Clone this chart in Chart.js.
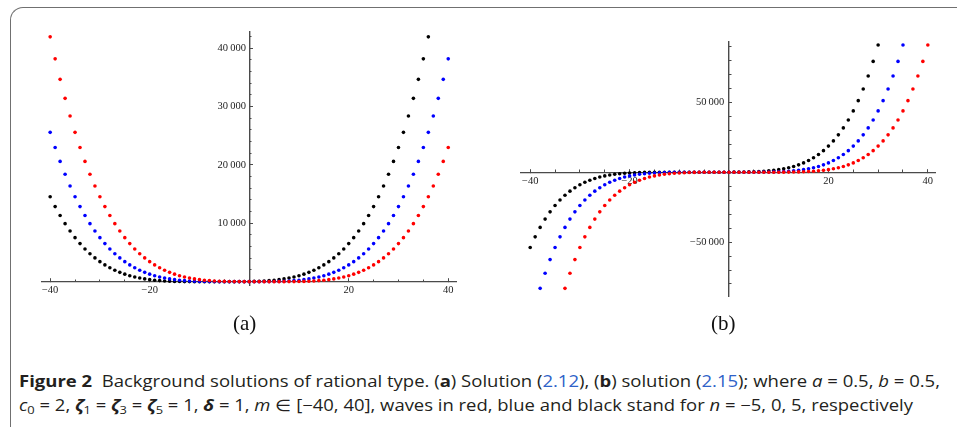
<!DOCTYPE html>
<html><head><meta charset="utf-8">
<script src="https://cdn.jsdelivr.net/npm/chart.js@4.4.1/dist/chart.umd.min.js"></script>
<style>
html,body{margin:0;padding:0;background:#fff;width:957px;height:427px;overflow:hidden;position:relative;}
#frame{position:absolute;left:10px;top:7px;width:1000px;height:500px;border-left:1.5px solid #707070;border-top:1.5px solid #707070;border-top-left-radius:13px;box-sizing:border-box;}
#ca{position:absolute;left:0;top:0;}
#cb{position:absolute;left:480px;top:0;}
.sub{position:absolute;top:310px;font-family:'Liberation Serif',serif;font-size:21px;color:#111;line-height:26px;}
.cap{position:absolute;left:19px;font-family:'Open Sans',sans-serif;font-size:16px;line-height:20px;color:#231f20;white-space:nowrap;transform-origin:0 0;}
.cap b{font-weight:700;}
.lk{color:#2e62c8;}
.sb{font-size:70%;position:relative;top:0.3em;}
</style>
</head><body>
<div id="frame"></div>
<canvas id="ca" width="480" height="320"></canvas>
<canvas id="cb" width="477" height="320"></canvas>
<div class="sub" id="la" style="left:233px;">(a)</div>
<div class="sub" id="lb" style="left:711px;">(b)</div>
<div class="cap" id="cap1" data-w="921" style="top:371px;"><b>Figure 2</b>&nbsp; Background solutions of rational type. (<b>a</b>) Solution (<span class="lk">2.12</span>), (<b>b</b>) solution (<span class="lk">2.15</span>); where <i>a</i> = 0.5, <i>b</i> = 0.5,</div>
<div class="cap" id="cap2" data-w="894" style="top:395px;"><i>c</i><span class="sb">0</span> = 2, <b><i>ζ</i></b><span class="sb">1</span> = <b><i>ζ</i></b><span class="sb">3</span> = <b><i>ζ</i></b><span class="sb">5</span> = 1, <b><i>δ</i></b> = 1, <i>m</i> ∈ [−40, 40], waves in red, blue and black stand for <i>n</i> = −5, 0, 5, respectively</div>
<script>
// ---------- data ----------
const mValues = [-40,-39,-38,-37,-36,-35,-34,-33,-32,-31,-30,-29,-28,-27,-26,-25,-24,-23,-22,-21,-20,-19,-18,-17,-16,-15,-14,-13,-12,-11,-10,-9,-8,-7,-6,-5,-4,-3,-2,-1,0,1,2,3,4,5,6,7,8,9,10,11,12,13,14,15,16,17,18,19,20,21,22,23,24,25,26,27,28,29,30,31,32,33,34,35,36,37,38,39,40];

// panel (a)
const aRed = [41915,38149,34644,31386,28363,25564,22977,20592,18398,16383,14539,12856,11322,9931,8671,7536,6515,5603,4789,4068,3431,2872,2384,1962,1598,1287,1024,803,621,471,350,254,180,123,80,50,29,16,8,3,1,0,0,0,0,0,1,3,8,16,29,50,80,123,180,254,350,471,621,803,1024,1287,1598,1962,2384,2872,3431,4068,4789,5603,6515,7536,8671,9931,11322,12856,14539,16383,18398,20592,22977];
const aBlue = [25564,22977,20592,18398,16383,14539,12856,11322,9931,8671,7536,6515,5603,4789,4068,3431,2872,2384,1962,1598,1287,1024,803,621,471,350,254,180,123,80,50,29,16,8,3,1,0,0,0,0,0,1,3,8,16,29,50,80,123,180,254,350,471,621,803,1024,1287,1598,1962,2384,2872,3431,4068,4789,5603,6515,7536,8671,9931,11322,12856,14539,16383,18398,20592,22977,25564,28363,31386,34644,38149];
const aBlack = [14539,12856,11322,9931,8671,7536,6515,5603,4789,4068,3431,2872,2384,1962,1598,1287,1024,803,621,471,350,254,180,123,80,50,29,16,8,3,1,0,0,0,0,0,1,3,8,16,29,50,80,123,180,254,350,471,621,803,1024,1287,1598,1962,2384,2872,3431,4068,4789,5603,6515,7536,8671,9931,11322,12856,14539,16383,18398,20592,22977,25564,28363,31386,34644,38149,41915,null,null,null,null];

// panel (b)
const bRed = [null,null,null,null,null,null,null,-83142,-72267,-62561,-53927,-46273,-39515,-33570,-28363,-23824,-19885,-16485,-13567,-11078,-8968,-7193,-5711,-4483,-3477,-2660,-2004,-1485,-1079,-767,-532,-359,-234,-146,-87,-49,-25,-12,-5,-2,-1,0,0,0,0,0,0,1,4,9,20,40,72,123,200,311,467,680,963,1335,1813,2420,3179,4118,5266,6658,8329,10320,12675,15442,18672,22420,26749,31721,37406,43879,51219,59509,68841,79307,91000];
const bBlue = [null,null,-83142,-72267,-62561,-53927,-46273,-39515,-33570,-28363,-23824,-19885,-16485,-13567,-11078,-8968,-7193,-5711,-4483,-3477,-2660,-2004,-1485,-1079,-767,-532,-359,-234,-146,-87,-49,-25,-12,-5,-2,-1,0,0,0,0,0,0,1,4,9,20,40,72,123,200,311,467,680,963,1335,1813,2420,3179,4118,5266,6658,8329,10320,12675,15442,18672,22420,26749,31721,37406,43879,51219,59509,68841,79307,91000,null,null,null,null,null];
const bBlack = [-53927,-46273,-39515,-33570,-28363,-23824,-19885,-16485,-13567,-11078,-8968,-7193,-5711,-4483,-3477,-2660,-2004,-1485,-1079,-767,-532,-359,-234,-146,-87,-49,-25,-12,-5,-2,-1,0,0,0,0,0,0,1,4,9,20,40,72,123,200,311,467,680,963,1335,1813,2420,3179,4118,5266,6658,8329,10320,12675,15442,18672,22420,26749,31721,37406,43879,51219,59509,68841,79307,91000,null,null,null,null,null,null,null,null,null,null];

// ticks
const aXLabels = [-40,-20,20,40];
const aXMajor = [-40,-20,20,40];
const aXMinor = [-35,-30,-25,-15,-10,-5,5,10,15,25,30,35];
const aYLabels = [10000,20000,30000,40000];
const aYMinor = [2000,4000,6000,8000,12000,14000,16000,18000,22000,24000,26000,28000,32000,34000,36000,38000,42000];

const bXLabels = [-40,-20,20,40];
const bXMajor = [-40,-20,20,40];
const bXMinor = [-35,-30,-25,-15,-10,-5,5,10,15,25,30,35];
const bYLabels = [-50000,50000];
const bYMinor = [-80000,-70000,-60000,-40000,-30000,-20000,-10000,10000,20000,30000,40000,60000,70000,80000,90000];

const seriesColors = {red:'#ff0000', blue:'#0000ff', black:'#000000'};

// ---------- helpers ----------
function fmt(v){
  const neg = v < 0; let a = Math.abs(v); let s;
  if (a >= 10000) { s = Math.floor(a/1000) + '\u2009' + String(a%1000).padStart(3,'0'); }
  else s = String(a);
  return (neg ? '\u2212' : '') + s;
}
function pts(vals){
  const out = [];
  mValues.forEach((m,i)=>{ if (vals[i] !== null) out.push({x:m, y:vals[i]}); });
  return out;
}
function ds(vals, col){
  return {data: pts(vals), backgroundColor: col, borderColor: col, pointRadius: 1.8, pointBorderWidth: 0, pointHoverRadius: 1.8, showLine:false};
}
const axisCol = '#4a4a4a';
const tickFont = {family:'Liberation Serif', size:10.5};
function setTicks(list){ return s => { s.ticks = list.map(v=>({value:v})); }; }

function scales(o){
  return {
    x: {type:'linear', axis:'x', min:o.xMin, max:o.xMax, position:{y:0},
        afterBuildTicks: setTicks(o.xLabels),
        ticks:{display:true, autoSkip:false, maxRotation:0, minRotation:0, padding:o.xPad, font:tickFont, color:'#222', callback:v=>fmt(v)},
        grid:{display:false, drawTicks:false}, border:{display:false}},
    xT: {type:'linear', axis:'x', min:o.xMin, max:o.xMax, position:{y:0},
        afterBuildTicks: setTicks(o.xMajor),
        ticks:{display:false},
        grid:{display:true, drawOnChartArea:false, drawTicks:true, tickLength:-4, tickColor:axisCol, tickWidth:1},
        border:{display:true, color:axisCol, width:1.2}},
    xM: {type:'linear', axis:'x', min:o.xMin, max:o.xMax, position:{y:0},
        afterBuildTicks: setTicks(o.xMinor),
        ticks:{display:false},
        grid:{display:true, drawOnChartArea:false, drawTicks:true, tickLength:-2.5, tickColor:axisCol, tickWidth:1},
        border:{display:false}},
    y: {type:'linear', axis:'y', min:o.yMin, max:o.yMax, position:{x:o.yLabelAt},
        afterBuildTicks: setTicks(o.yLabels),
        ticks:{display:true, autoSkip:false, padding:0, font:tickFont, color:'#222', callback:v=>fmt(v)},
        grid:{display:false, drawTicks:false}, border:{display:false}},
    yT: {type:'linear', axis:'y', min:o.yMin, max:o.yMax, position:{x:0},
        afterBuildTicks: setTicks(o.yLabels),
        ticks:{display:false},
        grid:{display:true, drawOnChartArea:false, drawTicks:true, tickLength:-4, tickColor:axisCol, tickWidth:1},
        border:{display:true, color:axisCol, width:1.4}},
    yM: {type:'linear', axis:'y', min:o.yMin, max:o.yMax, position:{x:0},
        afterBuildTicks: setTicks(o.yMinor),
        ticks:{display:false},
        grid:{display:true, drawOnChartArea:false, drawTicks:true, tickLength:-2.5, tickColor:axisCol, tickWidth:1},
        border:{display:false}}
  };
}

function makeChart(id, datasets, o){
  return new Chart(document.getElementById(id), {
    type:'scatter',
    data:{datasets},
    options:{
      responsive:false, animation:false, devicePixelRatio:1, events:[],
      layout:{padding:o.pad},
      plugins:{legend:{display:false}, tooltip:{enabled:false}, title:{display:false}},
      scales: scales(o)
    }
  });
}

// panel (a): chart area x 41.7..456.7, y 31.7..285.7
makeChart('ca', [ds(aRed,seriesColors.red), ds(aBlue,seriesColors.blue), ds(aBlack,seriesColors.black)], {
  xMin:-41.7, xMax:41.7, yMin:-690, yMax:42800, xPad:2.5, yLabelAt:-0.66,
  xLabels:aXLabels, xMajor:aXMajor, xMinor:aXMinor, yLabels:aYLabels, yMinor:aYMinor,
  pad:{left:41.7, right:480-456.7, top:31.7, bottom:320-285.7}
});
// panel (b): chart area x 521..935.3 (canvas offset 480), y 41.7..296
makeChart('cb', [ds(bRed,seriesColors.red), ds(bBlue,seriesColors.blue), ds(bBlack,seriesColors.black)], {
  xMin:-41.85, xMax:41.5, yMin:-88600, yMax:93400, xPad:2.5, yLabelAt:-0.95,
  xLabels:bXLabels, xMajor:bXMajor, xMinor:bXMinor, yLabels:bYLabels, yMinor:bYMinor,
  pad:{left:41, right:477-455.3, top:41.7, bottom:320-296}
});

// fit caption lines to reference widths
document.querySelectorAll('.cap').forEach(el=>{
  const w = el.getBoundingClientRect().width;
  const t = parseFloat(el.dataset.w);
  el.style.transform = 'scaleX(' + (t/w) + ')';
});
</script>
</body></html>
